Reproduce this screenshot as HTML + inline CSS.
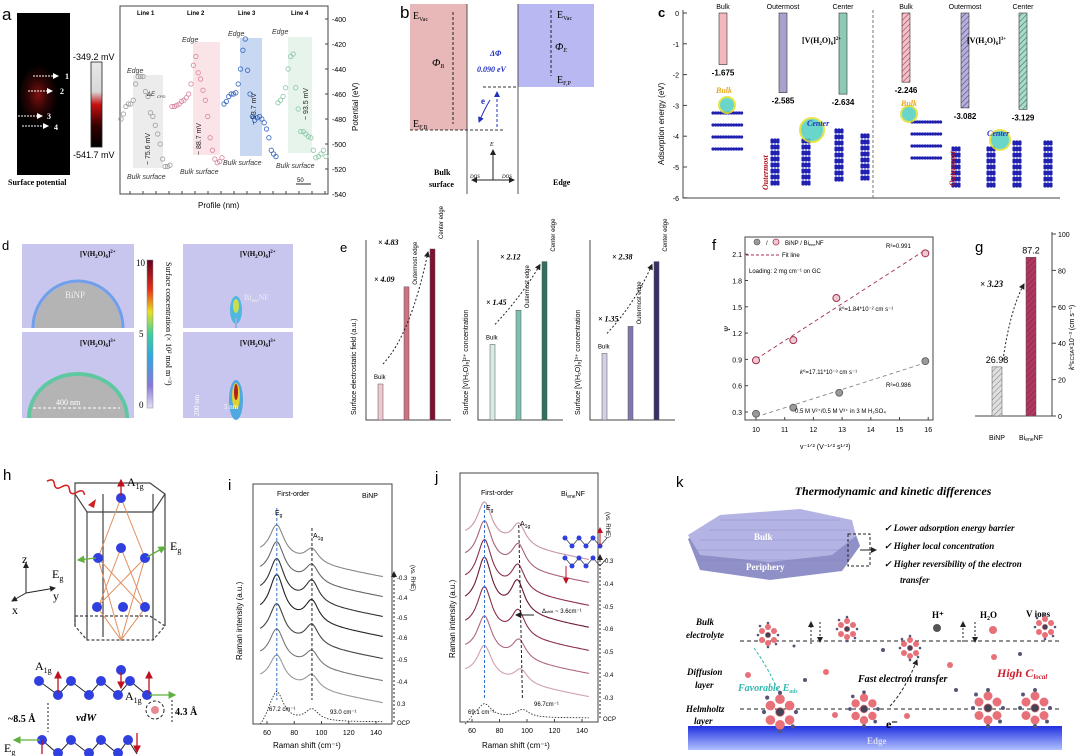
<!DOCTYPE html>
<html><head><meta charset="utf-8">
<style>
html,body{margin:0;padding:0;background:#fff;}
svg{display:block;font-family:"Liberation Sans",sans-serif;}
.ser{font-family:"Liberation Serif",serif;}
</style></head>
<body>
<svg id="fig" width="1080" height="756" viewBox="0 0 1080 756" xmlns="http://www.w3.org/2000/svg">
<defs>
<linearGradient id="cbarA" x1="0" y1="0" x2="0" y2="1"><stop offset="0" stop-color="#e8e8e8"/><stop offset="0.35" stop-color="#d8d8d8"/><stop offset="0.5" stop-color="#c81010"/><stop offset="0.75" stop-color="#300"/><stop offset="1" stop-color="#000"/></linearGradient>
<linearGradient id="cbarD" x1="0" y1="1" x2="0" y2="0"><stop offset="0" stop-color="#e4e0f4"/><stop offset="0.15" stop-color="#8878d8"/><stop offset="0.35" stop-color="#30a8e0"/><stop offset="0.5" stop-color="#40d0a0"/><stop offset="0.65" stop-color="#e8e020"/><stop offset="0.8" stop-color="#e83018"/><stop offset="1" stop-color="#600020"/></linearGradient>
<linearGradient id="edgeG" x1="0" y1="0" x2="0" y2="1"><stop offset="0" stop-color="#2030e0"/><stop offset="1" stop-color="#b0c0ff"/></linearGradient>
<radialGradient id="spm" cx="0.45" cy="0.5" r="0.5"><stop offset="0" stop-color="#801010"/><stop offset="0.5" stop-color="#300505"/><stop offset="1" stop-color="#000"/></radialGradient>
<pattern id="hatchP" width="4" height="4" patternUnits="userSpaceOnUse" patternTransform="rotate(45)"><rect width="4" height="4" fill="#f4c0c8"/><line x1="0" y1="0" x2="0" y2="4" stroke="#a04050" stroke-width="1.2"/></pattern>
<pattern id="hatchV" width="4" height="4" patternUnits="userSpaceOnUse" patternTransform="rotate(45)"><rect width="4" height="4" fill="#b8b0d8"/><line x1="0" y1="0" x2="0" y2="4" stroke="#504880" stroke-width="1.2"/></pattern>
<pattern id="hatchT" width="4" height="4" patternUnits="userSpaceOnUse" patternTransform="rotate(45)"><rect width="4" height="4" fill="#a8dcc8"/><line x1="0" y1="0" x2="0" y2="4" stroke="#407060" stroke-width="1.2"/></pattern>
<pattern id="hatchG" width="4" height="4" patternUnits="userSpaceOnUse" patternTransform="rotate(45)"><rect width="4" height="4" fill="#e0e0e0"/><line x1="0" y1="0" x2="0" y2="4" stroke="#888" stroke-width="1.2"/></pattern>
<pattern id="hatchM" width="4" height="4" patternUnits="userSpaceOnUse" patternTransform="rotate(45)"><rect width="4" height="4" fill="#b03860"/><line x1="0" y1="0" x2="0" y2="4" stroke="#802040" stroke-width="1"/></pattern>
<marker id="arr" markerWidth="6" markerHeight="6" refX="5" refY="3" orient="auto"><path d="M0,0 L6,3 L0,6 z" fill="#222"/></marker>
<marker id="arrB" markerWidth="6" markerHeight="6" refX="5" refY="3" orient="auto"><path d="M0,0 L6,3 L0,6 z" fill="#2030c0"/></marker>
<marker id="arrW" markerWidth="6" markerHeight="6" refX="5" refY="3" orient="auto"><path d="M0,0 L6,3 L0,6 z" fill="#fff"/></marker>
<marker id="arrR" markerWidth="6" markerHeight="6" refX="5" refY="3" orient="auto"><path d="M0,0 L6,3 L0,6 z" fill="#c01020"/></marker>
<marker id="arrG" markerWidth="6" markerHeight="6" refX="5" refY="3" orient="auto"><path d="M0,0 L6,3 L0,6 z" fill="#60b040"/></marker>
</defs>

<!-- ===== Panel a ===== -->
<g>
<text x="2" y="20" font-size="17">a</text>
<rect x="17" y="13" width="53" height="162" fill="#000"/>
<ellipse cx="40" cy="95" rx="20" ry="30" fill="url(#spm)"/>
<g stroke="#fff" stroke-width="1" stroke-dasharray="2,1" marker-end="url(#arrW)">
<line x1="33" y1="76" x2="58" y2="76"/><line x1="28" y1="91" x2="52" y2="91"/><line x1="18" y1="116" x2="42" y2="116"/><line x1="22" y1="126" x2="48" y2="126"/>
</g>
<g class="ser" font-size="8" fill="#fff" font-weight="bold"><text x="65" y="79">1</text><text x="60" y="94">2</text><text x="47" y="119">3</text><text x="54" y="130">4</text></g>
<text x="8" y="185" class="ser" font-size="8" font-weight="bold">Surface potential</text>
<rect x="91" y="62" width="11" height="85" fill="url(#cbarA)" stroke="#222" stroke-width="0.8"/>
<text x="73" y="60" font-size="9">-349.2 mV</text>
<text x="73" y="158" font-size="9">-541.7 mV</text>
<g id="aShade"></g>
<rect x="120" y="6" width="208" height="188" fill="none" stroke="#444" stroke-width="1"/>
<g id="aPlot"></g>
<g font-size="6" font-weight="bold"><text x="137" y="15">Line 1</text><text x="187" y="15">Line 2</text><text x="238" y="15">Line 3</text><text x="291" y="15">Line 4</text></g>
<g font-size="7" font-style="italic" fill="#333">
<text x="127" y="73">Edge</text><text x="182" y="42">Edge</text><text x="228" y="36">Edge</text><text x="272" y="34">Edge</text>
<text x="147" y="96" font-size="6">ΔE</text><text x="157" y="98" font-size="4">CPD</text>
<text x="127" y="179">Bulk surface</text><text x="180" y="174">Bulk surface</text><text x="223" y="165">Bulk surface</text><text x="276" y="168">Bulk surface</text>
</g>
<g font-size="7" fill="#222"><text transform="translate(150,165) rotate(-90)">~ 75.6 mV</text><text transform="translate(201,155) rotate(-90)">~ 88.7 mV</text><text transform="translate(256,125) rotate(-90)">~ 93.7 mV</text><text transform="translate(308,120) rotate(-90)">~ 93.5 mV</text></g>
<line x1="296" y1="184" x2="311" y2="184" stroke="#222"/><text x="297" y="182" font-size="6">50</text>
<text x="198" y="208" font-size="8">Profile (nm)</text>
<text transform="translate(358,131) rotate(-90)" font-size="8">Potential (eV)</text>
</g>

<!-- ===== Panel b ===== -->
<g class="ser">
<text x="400" y="18" font-size="17" font-family="Liberation Sans">b</text>
<rect x="410" y="4" width="57" height="126" fill="#e8b8b8"/>
<rect x="518" y="4" width="76" height="83" fill="#b8b8f2"/>
<line x1="467" y1="4" x2="467" y2="194" stroke="#555"/><line x1="518" y1="4" x2="518" y2="194" stroke="#555"/>
<line x1="410" y1="130" x2="505" y2="130" stroke="#333" stroke-dasharray="3,2"/>
<line x1="483" y1="87" x2="518" y2="87" stroke="#333" stroke-dasharray="3,2"/>
<line x1="453" y1="12" x2="453" y2="124" stroke="#222" stroke-dasharray="3,2"/>
<line x1="551" y1="10" x2="551" y2="76" stroke="#222" stroke-dasharray="3,2"/>
<line x1="497" y1="127" x2="497" y2="92" stroke="#2030c0" stroke-dasharray="3,2" marker-end="url(#arrB)"/>
<path d="M490,100 Q484,110 479,122" fill="none" stroke="#2030c0" marker-end="url(#arrB)"/>
<text x="413" y="19" font-size="10">E<tspan font-size="6" dy="2">Vac</tspan></text>
<text x="413" y="127" font-size="10">E<tspan font-size="6" dy="2">F,B</tspan></text>
<text x="432" y="66" font-size="11" font-style="italic">Φ<tspan font-size="6" dy="2">B</tspan></text>
<text x="557" y="18" font-size="10">E<tspan font-size="6" dy="2">Vac</tspan></text>
<text x="557" y="83" font-size="10">E<tspan font-size="6" dy="2">F,P</tspan></text>
<text x="555" y="50" font-size="11" font-style="italic">Φ<tspan font-size="6" dy="2">E</tspan></text>
<text x="490" y="56" font-size="8" fill="#2030c0" font-weight="bold" font-style="italic">ΔΦ</text>
<text x="477" y="72" font-size="8" fill="#2030c0" font-weight="bold" font-style="italic">0.090 eV</text>
<text x="481" y="104" font-size="9" fill="#2030c0" font-weight="bold">e</text>
<line x1="493" y1="180" x2="493" y2="150" stroke="#222" marker-end="url(#arr)"/><line x1="493" y1="180" x2="472" y2="180" stroke="#222" marker-end="url(#arr)"/><line x1="493" y1="180" x2="514" y2="180" stroke="#222" marker-end="url(#arr)"/>
<text x="490" y="146" font-size="6" font-style="italic">E</text>
<text x="470" y="178" font-size="5" font-style="italic">DOS</text><text x="502" y="178" font-size="5" font-style="italic">DOS</text>
<text x="434" y="175" font-size="8" font-weight="bold">Bulk</text><text x="429" y="187" font-size="8" font-weight="bold">surface</text>
<text x="553" y="185" font-size="8" font-weight="bold">Edge</text>
</g>

<!-- ===== Panel c ===== -->
<g>
<text x="658" y="17" font-size="13" font-weight="bold">c</text>
<polyline points="683,10 683,198 1060,198" fill="none" stroke="#444"/>
<line x1="873" y1="10" x2="873" y2="198" stroke="#777" stroke-dasharray="3,2"/>
<g id="cPlot"></g>
<text transform="translate(664,165) rotate(-90)" font-size="8">Adsorption energy (eV)</text>
<text x="802" y="43" class="ser" font-size="8" font-weight="bold">[V(H<tspan font-size="5" dy="2">2</tspan><tspan dy="-2">O)</tspan><tspan font-size="5" dy="2">6</tspan><tspan dy="-2">]</tspan><tspan font-size="5" dy="-3">2+</tspan></text>
<text x="967" y="43" class="ser" font-size="8" font-weight="bold">[V(H<tspan font-size="5" dy="2">2</tspan><tspan dy="-2">O)</tspan><tspan font-size="5" dy="2">6</tspan><tspan dy="-2">]</tspan><tspan font-size="5" dy="-3">3+</tspan></text>
<g id="cMol"></g>
<g class="ser" font-style="italic" font-weight="bold" font-size="8">
<text x="716" y="93" fill="#e8a820">Bulk</text><text x="901" y="106" fill="#e8a820">Bulk</text>
<text x="807" y="126" fill="#2030c0">Center</text><text x="987" y="136" fill="#2030c0">Center</text>
<text transform="translate(768,190) rotate(-90)" fill="#b01020">Outermost</text><text transform="translate(955,186) rotate(-90)" fill="#b01020">Outermost</text>
</g>
</g>

<!-- ===== Panel d ===== -->
<g>
<text x="2" y="250" font-size="13">d</text>
<rect x="22" y="244" width="112" height="84" fill="#c8c6ee"/><rect x="22" y="332" width="112" height="86" fill="#c8c6ee"/>
<rect x="183" y="244" width="110" height="84" fill="#c8c6ee"/><rect x="183" y="332" width="110" height="86" fill="#c8c6ee"/>
<path d="M33,328 A45,47 0 0 1 123,328" fill="#b8b0ec" stroke="#70a0e8" stroke-width="3"/>
<path d="M35,328 A43,45 0 0 1 121,328 Z" fill="#b4b4b4"/>
<path d="M29,418 A49,44 0 0 1 127,418" fill="#b8b0ec" stroke="#60c8a0" stroke-width="4"/>
<path d="M31,418 A47,42 0 0 1 125,418 Z" fill="#b4b4b4"/>
<text x="65" y="298" class="ser" font-size="9" fill="#eee">BiNP</text>
<line x1="33" y1="408" x2="120" y2="408" stroke="#fff" stroke-dasharray="3,2"/><text x="56" y="405" class="ser" font-size="8" fill="#fff">400 nm</text>
<ellipse cx="236" cy="310" rx="6" ry="14" fill="#50b8e0"/><ellipse cx="236" cy="306" rx="3" ry="7" fill="#c8e050"/><rect x="235" y="318" width="2" height="10" fill="#90b0e8"/>
<ellipse cx="236" cy="400" rx="7" ry="20" fill="#50a8e0"/><ellipse cx="236" cy="396" rx="4" ry="13" fill="#e0d030"/><ellipse cx="236" cy="392" rx="2" ry="8" fill="#b02020"/>
<text x="244" y="300" class="ser" font-size="8" fill="#eee">Bi<tspan font-size="5" dy="2">ene</tspan><tspan dy="-2">NF</tspan></text>
<text transform="translate(199,416) rotate(-90)" class="ser" font-size="7" fill="#fff">200 nm</text><text x="224" y="409" class="ser" font-size="7" fill="#fff">5 nm</text>
<g class="ser" font-size="7" font-weight="bold"><text x="80" y="256">[V(H<tspan font-size="5" dy="2">2</tspan><tspan dy="-2">O)</tspan><tspan font-size="5" dy="2">6</tspan><tspan dy="-2">]</tspan><tspan font-size="5" dy="-3">2+</tspan></text>
<text x="80" y="345">[V(H<tspan font-size="5" dy="2">2</tspan><tspan dy="-2">O)</tspan><tspan font-size="5" dy="2">6</tspan><tspan dy="-2">]</tspan><tspan font-size="5" dy="-3">3+</tspan></text>
<text x="240" y="256">[V(H<tspan font-size="5" dy="2">2</tspan><tspan dy="-2">O)</tspan><tspan font-size="5" dy="2">6</tspan><tspan dy="-2">]</tspan><tspan font-size="5" dy="-3">2+</tspan></text>
<text x="240" y="345">[V(H<tspan font-size="5" dy="2">2</tspan><tspan dy="-2">O)</tspan><tspan font-size="5" dy="2">6</tspan><tspan dy="-2">]</tspan><tspan font-size="5" dy="-3">3+</tspan></text></g>
<rect x="147" y="260" width="6" height="148" fill="url(#cbarD)" stroke="#888" stroke-width="0.5"/>
<g class="ser" font-size="9"><text x="136" y="266">10</text><text x="139" y="337">5</text><text x="139" y="408">0</text></g>
<text transform="translate(166,262) rotate(90)" class="ser" font-size="8">Surface concentration (× 10² mol m⁻³)</text>
</g>

<!-- ===== Panel e ===== -->
<g>
<text x="340" y="252" font-size="13">e</text>
<g id="ePlot"></g>
</g>

<!-- ===== Panel f ===== -->
<g>
<text x="712" y="250" font-size="15">f</text>
<rect x="745" y="237" width="188" height="183" fill="none" stroke="#444"/>
<g id="fPlot"></g>
<circle cx="757" cy="242" r="3" fill="#999" stroke="#555" stroke-width="0.6"/><text x="766" y="245" font-size="6">/</text><circle cx="776" cy="242" r="3" fill="#f0c8d0" stroke="#a03050" stroke-width="0.8"/>
<text x="785" y="245" font-size="6">BiNP / Bi<tspan font-size="4" dy="1">ene</tspan><tspan dy="-1">NF</tspan></text>
<line x1="746" y1="255" x2="780" y2="255" stroke="#a03050" stroke-dasharray="3,2"/><text x="782" y="257" font-size="6">Fit line</text>
<text x="749" y="273" font-size="6">Loading: 2 mg cm⁻¹ on GC</text>
<text x="886" y="248" font-size="6">R²=0.991</text><text x="886" y="387" font-size="6">R²=0.986</text>
<text x="839" y="311" font-size="6"><tspan font-style="italic">k</tspan>⁰=1.84*10⁻² cm s⁻¹</text>
<text x="800" y="374" font-size="6"><tspan font-style="italic">k</tspan>⁰=17.11*10⁻³ cm s⁻¹</text>
<text x="795" y="413" font-size="6">0.5 M V²⁺/0.5 M V³⁺ in 3 M H₂SO₄</text>
<text transform="translate(730,332) rotate(-90)" font-size="8" font-style="italic" class="ser">Ψ</text>
<text x="800" y="449" font-size="7">v⁻¹ᐟ² (V⁻¹ᐟ² s¹ᐟ²)</text>
</g>

<!-- ===== Panel g ===== -->
<g>
<text x="975" y="252" font-size="15">g</text>
<polyline points="975,416 1052,416 1052,232" fill="none" stroke="#444"/>
<g id="gPlot"></g>
<path d="M1003,360 Q1010,310 1024,284" fill="none" stroke="#222" stroke-dasharray="2,2" marker-end="url(#arr)"/>
<text x="980" y="287" class="ser" font-size="9" font-style="italic" font-weight="bold">× 3.23</text>
<text transform="translate(1074,370) rotate(-90)" font-size="7"><tspan font-style="italic">k</tspan>⁰<tspan font-size="5">ECSA</tspan>×10⁻³ (cm s⁻¹)</text>
</g>

<!-- ===== Panel h ===== -->
<g>
<text x="3" y="480" font-size="15">h</text>
<g fill="none" stroke="#444" stroke-width="1.2">
<path d="M75,483 L150,483 L165,494 L153,512 L87,512 L75,494 Z"/>
<path d="M75,616 L150,616 L165,626 L153,640 L87,640 L75,626 Z" stroke-dasharray="3,2"/>
<line x1="75" y1="494" x2="75" y2="626"/><line x1="103" y1="494" x2="103" y2="637"/><line x1="153" y1="494" x2="153" y2="640"/><line x1="87" y1="512" x2="87" y2="640"/><line x1="165" y1="494" x2="165" y2="626"/>
</g>
<g fill="none" stroke="#e09060" stroke-width="1">
<path d="M121,498 L98,558 L121,640 L145,558 Z"/><path d="M121,548 L98,608 L121,640 L145,608 Z"/><path d="M98,558 L144,608 M145,558 L96,608"/>
</g>
<g fill="#3040e0"><circle cx="121" cy="498" r="5"/><circle cx="121" cy="548" r="5"/><circle cx="98" cy="558" r="5"/><circle cx="145" cy="558" r="5"/><circle cx="97" cy="607" r="5"/><circle cx="123" cy="607" r="5"/><circle cx="145" cy="607" r="5"/><circle cx="121" cy="670" r="5"/></g>
<path d="M45,488 q5,-6 8,0 q3,6 8,0 q5,-6 8,0 q3,6 8,0 q5,-6 8,0" fill="none" stroke="#d02020" stroke-width="1.5" transform="rotate(20,65,490)"/>
<path d="M88,505 l8,-6 l-2,9 z" fill="#d02020"/>
<line x1="121" y1="496" x2="121" y2="480" stroke="#c01020" stroke-width="1.3" marker-end="url(#arrR)"/>
<line x1="121" y1="672" x2="121" y2="688" stroke="#c01020" stroke-width="1.3" marker-end="url(#arrR)"/>
<line x1="96" y1="558" x2="78" y2="560" stroke="#60b040" stroke-width="1.3" marker-end="url(#arrG)"/>
<line x1="147" y1="557" x2="165" y2="547" stroke="#60b040" stroke-width="1.3" marker-end="url(#arrG)"/>
<g class="ser" font-size="12"><text x="127" y="486">A<tspan font-size="8" dy="3">1g</tspan></text><text x="125" y="700">A<tspan font-size="8" dy="3">1g</tspan></text><text x="52" y="578">E<tspan font-size="8" dy="3">g</tspan></text><text x="170" y="550">E<tspan font-size="8" dy="3">g</tspan></text><text x="35" y="670">A<tspan font-size="8" dy="3">1g</tspan></text><text x="4" y="752">E<tspan font-size="8" dy="3">g</tspan></text></g>
<line x1="26" y1="593" x2="26" y2="563" stroke="#222" marker-end="url(#arr)"/><line x1="26" y1="593" x2="55" y2="588" stroke="#222" marker-end="url(#arr)"/><line x1="26" y1="593" x2="12" y2="601" stroke="#222" marker-end="url(#arr)"/>
<g class="ser" font-size="12"><text x="22" y="563">z</text><text x="53" y="600">y</text><text x="12" y="614">x</text></g>
<polyline points="39,681 58,695 71,681 89,695 101,681 118,695 130,681 147,695" fill="none" stroke="#222"/>
<polyline points="42,740 58,754 71,740 89,754 101,740 118,754 128,740 137,754" fill="none" stroke="#222"/>
<g fill="#3040e0"><circle cx="39" cy="681" r="5"/><circle cx="58" cy="695" r="5"/><circle cx="71" cy="681" r="5"/><circle cx="89" cy="695" r="5"/><circle cx="101" cy="681" r="5"/><circle cx="118" cy="695" r="5"/><circle cx="130" cy="681" r="5"/><circle cx="147" cy="695" r="5"/>
<circle cx="42" cy="740" r="5"/><circle cx="58" cy="753" r="5"/><circle cx="71" cy="740" r="5"/><circle cx="89" cy="753" r="5"/><circle cx="101" cy="740" r="5"/><circle cx="118" cy="753" r="5"/><circle cx="128" cy="740" r="5"/></g>
<line x1="58" y1="693" x2="58" y2="672" stroke="#c01020" stroke-width="1.3" marker-end="url(#arrR)"/><line x1="149" y1="693" x2="149" y2="672" stroke="#c01020" stroke-width="1.3" marker-end="url(#arrR)"/>
<line x1="42" y1="740" x2="42" y2="754" stroke="#c01020" stroke-width="1.3"/><line x1="137" y1="733" x2="137" y2="752" stroke="#c01020" stroke-width="1.3" marker-end="url(#arrR)"/>
<line x1="150" y1="695" x2="175" y2="695" stroke="#60b040" stroke-width="1.3" marker-end="url(#arrG)"/><line x1="40" y1="740" x2="14" y2="740" stroke="#60b040" stroke-width="1.3" marker-end="url(#arrG)"/>
<line x1="48" y1="703" x2="48" y2="732" stroke="#222" stroke-dasharray="2,2"/>
<circle cx="155" cy="710" r="9" fill="none" stroke="#222" stroke-dasharray="3,2"/><circle cx="155" cy="710" r="4" fill="#e88890"/>
<line x1="172" y1="700" x2="172" y2="722" stroke="#222" stroke-dasharray="2,2"/>
<g class="ser" font-weight="bold"><text x="8" y="722" font-size="10">~8.5 Å</text><text x="76" y="721" font-size="11" font-style="italic">vdW</text><text x="175" y="715" font-size="10">4.3 Å</text></g>
</g>

<!-- ===== Panel i ===== -->
<g>
<text x="228" y="490" font-size="15">i</text>
<rect x="253" y="484" width="139" height="240" fill="none" stroke="#444"/>
<g id="iPlot"></g>
<text x="277" y="496" font-size="7">First-order</text><text x="362" y="498" font-size="7">BiNP</text>
<text x="275" y="515" font-size="7">E<tspan font-size="5" dy="2">g</tspan></text><text x="313" y="538" font-size="7">A<tspan font-size="5" dy="2">1g</tspan></text>
<text x="269" y="711" font-size="6">67.2 cm⁻¹</text><text x="330" y="714" font-size="6">93.0 cm⁻¹</text>
<text transform="translate(411,565) rotate(90)" font-size="6">(vs. RHE)</text>
<text transform="translate(242,660) rotate(-90)" font-size="8">Raman intensity (a.u.)</text>
<text x="273" y="748" font-size="8">Raman shift (cm⁻¹)</text>
</g>

<!-- ===== Panel j ===== -->
<g>
<text x="435" y="482" font-size="15">j</text>
<rect x="460" y="473" width="138" height="249" fill="none" stroke="#444"/>
<g id="jPlot"></g>
<text x="481" y="495" font-size="7">First-order</text><text x="561" y="496" font-size="7">Bi<tspan font-size="5" dy="2">ene</tspan><tspan dy="-2">NF</tspan></text>
<text x="486" y="510" font-size="7">E<tspan font-size="5" dy="2">g</tspan></text><text x="520" y="526" font-size="7">A<tspan font-size="5" dy="2">1g</tspan></text>
<text x="542" y="613" font-size="6">Δ<tspan font-size="4">shift</tspan> ~ 3.6cm⁻¹</text>
<line x1="534" y1="615" x2="516" y2="615" stroke="#222" marker-end="url(#arr)"/>
<text x="468" y="714" font-size="6">69.1 cm⁻¹</text><text x="534" y="706" font-size="6">96.7cm⁻¹</text>
<text transform="translate(606,512) rotate(90)" font-size="6">(vs. RHE)</text>
<polyline points="565,538 572,546 579,538 586,546 593,538 600,546 607,538" fill="none" stroke="#222" stroke-width="0.6"/>
<polyline points="565,558 572,566 579,558 586,566 593,558 600,566 607,558" fill="none" stroke="#222" stroke-width="0.6"/>
<g fill="#3040e0"><circle cx="565" cy="538" r="2.5"/><circle cx="572" cy="546" r="2.5"/><circle cx="579" cy="538" r="2.5"/><circle cx="586" cy="546" r="2.5"/><circle cx="593" cy="538" r="2.5"/><circle cx="600" cy="546" r="2.5"/><circle cx="565" cy="558" r="2.5"/><circle cx="572" cy="566" r="2.5"/><circle cx="579" cy="558" r="2.5"/><circle cx="586" cy="566" r="2.5"/><circle cx="593" cy="558" r="2.5"/></g>
<line x1="600" y1="546" x2="600" y2="528" stroke="#c01020" marker-end="url(#arrR)"/><line x1="566" y1="566" x2="566" y2="583" stroke="#c01020" marker-end="url(#arrR)"/>
<text transform="translate(455,658) rotate(-90)" font-size="8">Raman intensity (a.u.)</text>
<text x="482" y="748" font-size="8">Raman shift (cm⁻¹)</text>
</g>

<!-- ===== Panel k ===== -->
<g>
<text x="676" y="487" font-size="15">k</text>
<text x="893" y="495" text-anchor="middle" class="ser" font-size="12" font-weight="bold" font-style="italic">Thermodynamic and kinetic differences</text>
<path d="M688,539 L720,518 L800,512 L852,524 L860,546 L842,571 L770,580 L700,570 Z" fill="#9090c8"/>
<path d="M688,535 L720,515 L800,509 L852,520 L856,536 L832,555 L770,562 L700,555 Z" fill="#b4b4e4"/>
<g stroke="#8080c0" stroke-width="0.6" opacity="0.7"><path d="M700,560 L845,560 M695,550 L850,550 M700,540 L852,540 M710,530 L850,530 M720,520 L840,520"/></g>
<text x="754" y="540" class="ser" font-size="9" font-weight="bold" fill="#fff">Bulk</text>
<text x="746" y="570" class="ser" font-size="9" font-weight="bold" fill="#fff">Periphery</text>
<rect x="848" y="534" width="22" height="32" fill="none" stroke="#222" stroke-dasharray="3,2"/><line x1="860" y1="550" x2="876" y2="550" stroke="#222" marker-end="url(#arr)"/>
<g class="ser" font-size="9" font-style="italic" font-weight="bold">
<text x="884" y="531">✓  Lower adsorption energy barrier</text>
<text x="884" y="549">✓  Higher local concentration</text>
<text x="884" y="567">✓  Higher reversibility of the electron</text>
<text x="900" y="583">transfer</text>
<text x="696" y="625">Bulk</text><text x="686" y="638">electrolyte</text>
<text x="687" y="675">Diffusion</text><text x="695" y="688">layer</text>
<text x="686" y="712">Helmholtz</text><text x="694" y="724">layer</text>
<text x="858" y="682" font-size="10">Fast electron transfer</text>
<text x="738" y="691" font-size="10" fill="#30b8b0">Favorable E<tspan font-size="6" dy="2">ads</tspan></text>
<text x="997" y="677" font-size="12" fill="#d02030">High C<tspan font-size="7" dy="2">local</tspan></text>
</g>
<g class="ser" font-size="9" font-weight="bold"><text x="932" y="618">H⁺</text><text x="980" y="618">H<tspan font-size="6" dy="2">2</tspan><tspan dy="-2">O</tspan></text><text x="1026" y="617">V ions</text></g>
<g stroke="#222" stroke-dasharray="4,3" fill="none"><line x1="740" y1="641" x2="1062" y2="641"/><line x1="740" y1="709" x2="1062" y2="709"/></g>
<path d="M754,648 Q770,670 782,700" fill="none" stroke="#30b8b0" stroke-dasharray="3,2"/>
<path d="M890,706 Q905,690 917,660" fill="none" stroke="#222" stroke-dasharray="3,2" marker-end="url(#arr)"/>
<rect x="688" y="726" width="374" height="24" fill="url(#edgeG)"/>
<text x="867" y="744" class="ser" font-size="9" font-weight="bold" fill="#dde">Edge</text>
<g id="kIons"></g>
</g>
</svg>

<script>
// ---------- Panel a data ----------
const aLine1 = [-480,-476,-470,-468,-468,-465,-452,-446,-446,-446,-458,-462,-475,-478,-485,-492,-500,-512,-518,-518,-517];
const aLine2 = [-470,-470,-469,-468,-466,-465,-463,-460,-452,-437,-430,-443,-448,-457,-465,-478,-495,-505,-512,-515,-514,-511];
const aLine3 = [-468,-466,-462,-460,-460,-459,-452,-440,-425,-416,-441,-460,-478,-481,-479,-478,-480,-483,-488,-495,-505,-508,-510];
const aLine4 = [-467,-465,-462,-455,-440,-430,-428,-455,-472,-490,-490,-492,-494,-495,-505,-511,-510,-508,-505,-510];
const aTicks = [-400,-420,-440,-460,-480,-500,-520,-540];
// ---------- Panel c data ----------
const cCats = ["Bulk","Outermost","Center","Bulk","Outermost","Center"];
const cVals = [-1.675,-2.585,-2.634,-2.246,-3.082,-3.129];
const cTicks = [0,-1,-2,-3,-4,-5,-6];
// ---------- Panel e data ----------
const eCats = ["Bulk","Outermost edge","Center edge"];
const eField = [0.2,0.74,0.95];
const eConc2 = [0.42,0.61,0.88];
const eConc3 = [0.37,0.52,0.88];
const eFactors1 = ["× 4.09","× 4.83"];
const eFactors2 = ["× 1.45","× 2.12"];
const eFactors3 = ["× 1.35","× 2.38"];
// ---------- Panel f data ----------
const fXticks = [10,11,12,13,14,15,16];
const fYticks = [0.3,0.6,0.9,1.2,1.5,1.8,2.1];
const fXpink = [10,11.3,12.8,15.9];
const fYpink = [0.89,1.12,1.60,2.11];
const fXgray = [10,11.3,12.9,15.9];
const fYgray = [0.28,0.35,0.52,0.88];
// ---------- Panel g data ----------
const gCats = ["BiNP","BieneNF"];
const gVals = [26.98,87.2];
const gTicks = [0,20,40,60,80,100];
// ---------- Panel i data ----------
const iLabels = ["-0.3","-0.4","-0.5","-0.6","-0.5","-0.4","0.3"];
const iBase = [0,1,2,3,4,5,6];
const iEg = [32,35,38,42,35,32,28];
const iA1g = [14,18,22,22,20,16,14];
const iEgPos = 67.2, iA1gPos = 93.0;
const iOCP = [30,12];
// ---------- Panel j data ----------
const jLabels = ["-0.3","-0.4","-0.5","-0.6","-0.5","-0.4","-0.3"];
const jEg = [38,42,46,50,44,38,32];
const jA1g = [22,24,26,32,26,20,14];
const jA1gPos = [94.0,93.8,93.5,93.1,93.6,94.2,95.5];
const jEgPos = 69.1;
const jOCP = [14,8];
const ramanX = [55,145];

const NS="http://www.w3.org/2000/svg";
function mk(tag,attrs,parent){const e=document.createElementNS(NS,tag);for(const k in attrs)e.setAttribute(k,attrs[k]);parent.appendChild(e);return e;}
function txt(x,y,s,size,parent,anchor){const t=mk("text",{x:x,y:y,"font-size":size,"text-anchor":anchor||"start"},parent);t.textContent=s;return t;}

// ---- a ----
(function(){
 const g=document.getElementById("aPlot");const sh=document.getElementById("aShade");
 const y=v=>19+(-400-v)/20*25;
 const segs=[[121,170,aLine1,"#a0a0a0"],[172,222,aLine2,"#d888a0"],[224,276,aLine3,"#3868c0"],[278,326,aLine4,"#90c8a8"]];
 const shades=[[133,163,75,168,"#ececec"],[193,220,42,155,"#fbe4e8"],[240,262,38,156,"#c8d8f2"],[288,312,37,153,"#e6f4ec"]];
 shades.forEach(s=>{const r=mk("rect",{x:s[0],y:s[2],width:s[1]-s[0],height:s[3]-s[2],fill:s[4]},sh);
 
 });
 segs.forEach((s,si)=>{const n=s[2].length;s[2].forEach((v,i)=>{const c=mk("circle",{cx:s[0]+i*(s[1]-s[0])/(n-1),cy:y(v),r:2.2,fill:"none",stroke:s[3],"stroke-width":0.8},g);
 
 });});
 aTicks.forEach(t=>{mk("line",{x1:328,x2:325,y1:y(t),y2:y(t),stroke:"#444"},g);txt(332,y(t)+3,t,7,g);});
 for(let x=130;x<328;x+=13)mk("line",{x1:x,x2:x,y1:194,y2:191,stroke:"#444"},g);
})();

// ---- c ----
(function(){
 const g=document.getElementById("cPlot");
 const y=v=>13-v*30.8;
 const xs=[723,783,843,906,965,1023];
 const fills=["#f2b8bc","#aaa2cc","#8ccab4","url(#hatchP)","url(#hatchV)","url(#hatchT)"];
 cTicks.forEach(t=>{mk("line",{x1:683,x2:687,y1:y(t),y2:y(t),stroke:"#444"},g);txt(679,y(t)+3,t,7,g,"end");});
 cVals.forEach((v,i)=>{const r=mk("rect",{x:xs[i]-4,y:y(0),width:8,height:y(v)-y(0),fill:fills[i],stroke:"#333","stroke-width":0.6},g);
 
 
 const t=txt(xs[i],y(v)+11,v.toFixed(3),8,g,"middle");t.setAttribute("font-weight","bold");
 txt(xs[i],9,cCats[i],7,g,"middle");});
 // decorative atom clusters
 const m=document.getElementById("cMol");
 const clusters=[[713,113,4,4,12],[912,122,4,4,12],[772,140,2,8,8],[803,140,2,8,8],[836,130,2,9,8],[862,135,2,8,8],[953,148,2,7,8],[988,148,2,7,8],[1014,142,2,8,8],[1045,142,2,8,8]];
 clusters.forEach(c=>{for(let col=0;col<c[2]*3;col++)for(let row=0;row<c[3];row++){if(c[2]===4&&row%1!==0)continue;
  const cx=c[0]+ (c[2]===4? col*2.6 : (col%3)*3), cy=c[1]+ (c[2]===4? row*12 : row*6 + (col%2)*2);
  if(c[2]===4&&col>=12)continue;mk("circle",{cx:cx,cy:cy,r:1.6,fill:"#2020b0"},m);}});
 [[727,105,8],[812,130,12],[909,114,8],[1000,140,10]].forEach(b=>{mk("circle",{cx:b[0],cy:b[1],r:b[2],fill:"#50d0c0",stroke:"#e0e030","stroke-width":2,opacity:0.85},m);});
})();

// ---- e ----
(function(){
 const g=document.getElementById("ePlot");
 const subs=[[366,eField,["#f0c8d0","#d07080","#801030"],"Surface electrostatic field (a.u.)",eFactors1],
             [478,eConc2,["#d8ece4","#80c0b0","#307060"],"Surface [V(H₂O)₆]²⁺ concentration",eFactors2],
             [590,eConc3,["#d4d0e8","#8078b0","#383068"],"Surface [V(H₂O)₆]³⁺ concentration",eFactors3]];
 const bottom=420,top=240;
 subs.forEach((s,si)=>{
  const x0=s[0];mk("polyline",{points:`${x0},240 ${x0},${bottom} ${x0+85},${bottom}`,fill:"none",stroke:"#444"},g);
  const t=mk("text",{transform:`translate(${x0-10},${bottom-5}) rotate(-90)`,"font-size":7},g);t.textContent=s[3];
  s[1].forEach((v,i)=>{const bx=x0+12+i*26;const h=v*(bottom-top);
   const r=mk("rect",{x:bx,y:bottom-h,width:5,height:h,fill:s[2][i],stroke:"#555","stroke-width":0.5},g);
   
   
   if(i===0)txt(bx-4,bottom-h-5,eCats[i],6,g);
   else{const l=mk("text",{transform:`translate(${bx+13},${bottom-h+(i===2?-10:-2)}) rotate(-90)`,"font-size":6},g);l.textContent=eCats[i];}
  });
  const h0=s[1][0]*(bottom-top),h2=s[1][2]*(bottom-top);
  mk("path",{d:`M${x0+17},${bottom-h0-20} Q${x0+45},${bottom-h0-50} ${x0+62},${bottom-h2+3}`,fill:"none",stroke:"#222","stroke-dasharray":"2,2","marker-end":"url(#arr)"},g);
  const f1=txt(x0+8,bottom-s[1][1]*(bottom-top)+(si===0?-5:-5),s[4][0],8,g);f1.setAttribute("font-style","italic");f1.setAttribute("font-weight","bold");f1.setAttribute("class","ser");
  const f2=txt(x0+12+ (si===0?0:10),bottom-h2+(si===0?-4:-2),s[4][1],8,g);f2.setAttribute("font-style","italic");f2.setAttribute("font-weight","bold");f2.setAttribute("class","ser");
 });
})();

// ---- f ----
(function(){
 const g=document.getElementById("fPlot");
 const x=v=>756+(v-10)*28.7, y=v=>412-(v-0.3)/0.3*26.3;
 fXticks.forEach(t=>{mk("line",{x1:x(t),x2:x(t),y1:420,y2:417,stroke:"#444"},g);txt(x(t),432,t,7,g,"middle");});
 fYticks.forEach(t=>{mk("line",{x1:745,x2:748,y1:y(t),y2:y(t),stroke:"#444"},g);txt(742,y(t)+3,t.toFixed(1),7,g,"end");});
 function fit(xs,ys,col){const n=xs.length;let sx=0,sy=0,sxx=0,sxy=0;for(let i=0;i<n;i++){sx+=xs[i];sy+=ys[i];sxx+=xs[i]*xs[i];sxy+=xs[i]*ys[i];}
  const b=(n*sxy-sx*sy)/(n*sxx-sx*sx),a=(sy-b*sx)/n;
  mk("line",{x1:x(10),y1:y(a+b*10),x2:x(15.9),y2:y(a+b*15.9),stroke:col,"stroke-dasharray":"4,3","stroke-width":0.9},g);}
 fit(fXpink,fYpink,"#a03050");fit(fXgray,fYgray,"#888");
 fXpink.forEach((v,i)=>{const c=mk("circle",{cx:x(v),cy:y(fYpink[i]),r:3.5,fill:"#f0c8d0",stroke:"#a03050","stroke-width":1},g);
 
 });
 fXgray.forEach((v,i)=>{const c=mk("circle",{cx:x(v),cy:y(fYgray[i]),r:3.5,fill:"#999",stroke:"#555","stroke-width":0.8},g);
 
 });
})();

// ---- g ----
(function(){
 const g=document.getElementById("gPlot");
 const y=v=>416-v*1.82;const xs=[997,1031];const fills=["url(#hatchG)","url(#hatchM)"];
 gTicks.forEach(t=>{mk("line",{x1:1052,x2:1056,y1:y(t),y2:y(t),stroke:"#444"},g);txt(1058,y(t)+3,t,7,g);});
 gVals.forEach((v,i)=>{const r=mk("rect",{x:xs[i]-5,y:y(v),width:10,height:y(0)-y(v),fill:fills[i],stroke:"#555","stroke-width":0.5},g);
 
 
 txt(xs[i],y(v)-4,v,9,g,"middle");});
 txt(997,440,"BiNP",7,g,"middle");
 const t=mk("text",{x:1031,y:440,"font-size":7,"text-anchor":"middle"},g);t.innerHTML='Bi<tspan font-size="5" dy="1">ene</tspan><tspan dy="-1">NF</tspan>';
})();

// ---- Raman ----
function raman(gid,x0,pxPer,frameBottom,rightX,labels,bases,eg,a1g,egPos,a1gPos,ocp,colors,ocpBase,ticksY){
 const g=document.getElementById(gid);
 const X=v=>x0+(v-60)*pxPer;
 const L=(v,c,w)=>1/(1+((v-c)/w)**2);
 [60,80,100,120,140].forEach(t=>{mk("line",{x1:X(t),x2:X(t),y1:frameBottom,y2:frameBottom-3,stroke:"#444"},g);txt(X(t),frameBottom+11,t,7,g,"middle");});
 labels.forEach((lab,i)=>{const b=bases[i];const ap=Array.isArray(a1gPos)?a1gPos[i]:a1gPos;let d="";
  for(let v=ramanX[0];v<=ramanX[1];v+=1){const yy=b-(145-v)*0.25-eg[i]*L(v,egPos,6.5)-a1g[i]*L(v,ap,6);d+=(d?"L":"M")+X(v).toFixed(1)+","+yy.toFixed(1);}
  const p=mk("path",{d:d,fill:"none",stroke:colors[i],"stroke-width":1.1},g);
  
  
  txt(rightX,b+3,lab,6,g);});
 let d="";for(let v=ramanX[0];v<=ramanX[1];v+=1){const yy=ocpBase+(v<62?(62-v)*1.2:0)-ocp[0]*L(v,egPos,6)-ocp[1]*L(v,Array.isArray(a1gPos)?96.7:a1gPos,6);d+=(d?"L":"M")+X(v).toFixed(1)+","+yy.toFixed(1);}
 const p=mk("path",{d:d,fill:"none",stroke:"#333","stroke-width":0.9,"stroke-dasharray":"1.5,1.5"},g);
 
 
 txt(rightX,ocpBase+3,"OCP",6,g);
 mk("line",{x1:X(egPos),x2:X(egPos),y1:ticksY[0],y2:ticksY[1],stroke:"#3070d0","stroke-dasharray":"3,2"},g);
 const ap0=Array.isArray(a1gPos)?a1gPos[0]:a1gPos;
 mk("line",{x1:X(ap0),x2:X(Array.isArray(a1gPos)?96.7:a1gPos),y1:ticksY[0]+20,y2:ticksY[1],stroke:"#222","stroke-dasharray":"3,2"},g);
 mk("line",{x1:rightX-3,x2:rightX-3,y1:ocpBase,y2:bases[0]-5,stroke:"#222","stroke-dasharray":"2,2","marker-end":"url(#arr)"},g);
}
raman("iPlot",267,1.3625,724,397,iLabels,[577,597,617,637,659,681,703],iEg,iA1g,iEgPos,iA1gPos,iOCP,["#888","#666","#333","#222","#444","#777","#999"],722,[508,700]);
raman("jPlot",472,1.375,722,603,jLabels,[560,583,606,628,651,674,697],jEg,jA1g,jEgPos,jA1gPos,jOCP,["#c898a8","#a86078","#8a3050","#6a1830","#8a3050","#b06880","#d0a0b0"],718,[505,700]);

// ---- k ions (decorative) ----
(function(){
 const g=document.getElementById("kIons");
 const cl=[[768,635,1],[847,629,1],[910,648,1],[1045,627,1],[780,712,1.6],[864,709,1.4],[988,708,1.5],[1035,708,1.5]];
 cl.forEach(c=>{const s=c[2];[[0,0],[-6,-4],[6,-4],[-6,5],[6,5],[0,-8],[0,8]].forEach(o=>{mk("circle",{cx:c[0]+o[0]*s,cy:c[1]+o[1]*s,r:3*s,fill:"#e87078"},g);});
  mk("circle",{cx:c[0],cy:c[1],r:2.5*s,fill:"#445"},g);
  [[-10,0],[10,0],[0,-12],[0,12],[-8,-9],[8,9]].forEach(o=>{mk("circle",{cx:c[0]+o[0]*s,cy:c[1]+o[1]*s,r:1.3*s,fill:"#557"},g);});});
 [[937,628,4,"#555"],[993,630,4,"#e87078"],[748,675,3,"#e87078"],[826,672,3,"#e87078"],[950,665,3,"#e87078"],[994,657,3,"#e87078"],[805,680,2,"#557"],[883,650,2,"#557"],[956,690,2,"#557"],[1020,654,2,"#557"],[835,715,3,"#e87078"],[907,716,3,"#e87078"],[794,646,1.5,"#557"]].forEach(p=>{mk("circle",{cx:p[0],cy:p[1],r:p[2],fill:p[3]},g);});
 [[811,644,811,622],[820,622,820,642],[963,642,963,622],[975,622,975,642]].forEach(a=>{mk("line",{x1:a[0],y1:a[1],x2:a[2],y2:a[3],stroke:"#222","stroke-dasharray":"2,2","marker-end":"url(#arr)"},g);});
 const e=txt(886,728,"e⁻",12,g);e.setAttribute("font-weight","bold");e.setAttribute("class","ser");
})();
</script>
</body></html>
